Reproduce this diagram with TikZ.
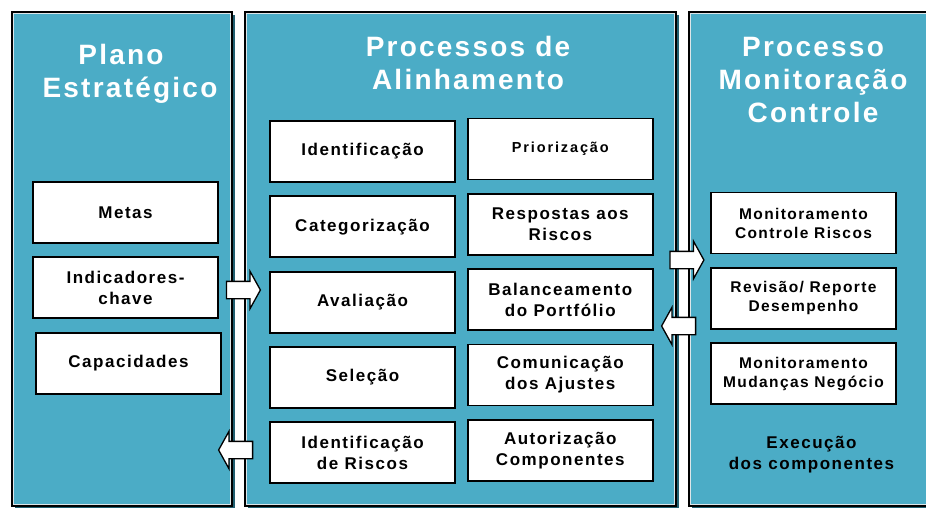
\documentclass[tikz,border=0pt]{standalone}
\usepackage{fontspec}
\usepackage{tikz}
\usetikzlibrary{positioning,shapes.arrows,shadows}
\newfontfamily\spacedfont{Liberation Sans}[LetterSpace=9]
\newfontfamily\widefont{Liberation Sans}[LetterSpace=13]
\newfontfamily\titlefont{Liberation Sans}[LetterSpace=8]
\definecolor{panelteal}{HTML}{4BACC6}
\definecolor{shadowteal}{HTML}{215F70}
\definecolor{innerline}{HTML}{DDE6E9}
\tikzstyle{panel} = [rectangle, fill=panelteal, draw=black, line width=1.5pt, drop shadow={shadow xshift=3pt, shadow yshift=-3pt, opacity=1, fill=shadowteal}]
\tikzstyle{inner} = [draw=innerline, line width=1pt]
\tikzstyle{title} = [text=white, align=center, font=\titlefont\bfseries\fontsize{28}{33}\selectfont]
\tikzstyle{item} = [rectangle, fill=white, draw=black, line width=1.8pt, minimum width=185pt, minimum height=61pt, align=center, inner sep=2pt, font=\spacedfont\bfseries\fontsize{17}{21}\selectfont]
\tikzstyle{small} = [font=\spacedfont\bfseries\fontsize{15.5}{19}\selectfont]
\tikzstyle{smallwide} = [font=\widefont\bfseries\fontsize{14.5}{19}\selectfont]
\tikzstyle{blockright} = [single arrow, draw=black, fill=white, line width=1.3pt, inner xsep=0pt, inner ysep=8pt, minimum height=34pt, single arrow head extend=10pt, single arrow tip angle=122]
\tikzstyle{blockleft} = [blockright, shape border rotate=180]

\begin{document}
\begin{tikzpicture}[x=1pt, y=-1pt, node distance=12.5pt]
    \useasboundingbox (0,0) rectangle (926,507);
    \clip (0,0) rectangle (926,507);

    % the three panels
    \node (plano) [panel, minimum width=220pt, minimum height=494pt] at (122,259) {};
    \node (alinh) [panel, minimum width=431pt, minimum height=494pt] at (460.5,259) {};
    \node (monit) [panel, minimum width=251pt, minimum height=494pt] at (814.5,259) {};
    \foreach \p in {plano,alinh,monit}
        \draw [inner] ([shift={(2.5pt,-2.5pt)}]\p.north west) rectangle ([shift={(-2.5pt,2.5pt)}]\p.south east);

    \node (planotitle) [title] at (130,74) {\hspace*{-18pt}Plano\\Estratégico};
    \node (alinhtitle) [title] at (468,63) {Processos de\\Alinhamento};
    \node (monittitle) [title] at (813,80) {Processo\\Monitoração\\Controle};

    % plano estrategico
    \node (metas) [item] at (125.5,212.5) {Metas};
    \node (indic) [item, below=of metas] {Indicadores-\\chave};
    \node (capac) [item, below=of indic, xshift=3pt] {Capacidades};

    % processos de alinhamento
    \node (ident) [item] at (362.5,151.5) {Identificação};
    \node (categ) [item, below=of ident] {Categorização};
    \node (avali) [item, below=of categ] {Avaliação};
    \node (selec) [item, below=of avali] {Seleção};
    \node (idris) [item, below=of selec] {Identificação\\de Riscos};

    \node (prior) [item, smallwide, right=11pt of ident, yshift=2.5pt] {Priorização};
    \node (resp) [item, below=of prior] {Respostas aos\\Riscos};
    \node (balan) [item, below=of resp] {Balanceamento\\do Portfólio};
    \node (comun) [item, below=of balan] {Comunicação\\dos Ajustes};
    \node (autor) [item, below=of comun] {Autorização\\Componentes};

    % monitoracao e controle
    \node (moncr) [item, small] at (803.5,223) {Monitoramento\\Controle Riscos};
    \node (revis) [item, small, below=of moncr] {Revisão/ Reporte\\Desempenho};
    \node (monmud) [item, small, below=of revis] {Monitoramento\\Mudanças Negócio};
    \node (exec) [item, draw=none, fill=none, below=28pt of monmud, xshift=8pt, minimum height=0pt] {Execução\\dos componentes};

    % block arrows
    \node (arr1) [blockright] at (241,290) {};
    \node (arr2) [blockleft] at (238,450) {};
    \node (arr3) [blockright] at (684.5,260) {};
    \node (arr4) [blockleft] at (681,326) {};

\end{tikzpicture}
\end{document}
